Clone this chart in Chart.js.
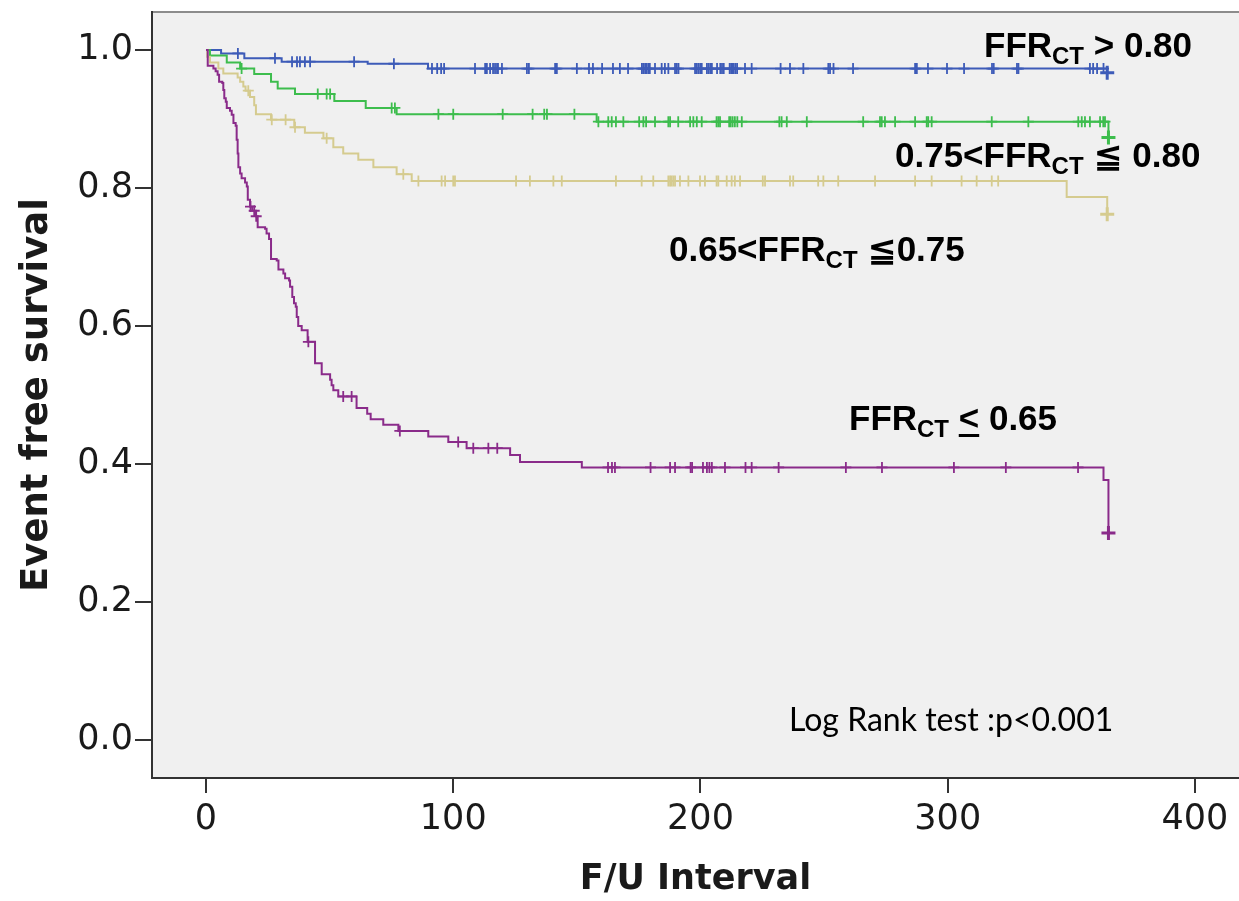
<!DOCTYPE html>
<html>
<head>
<meta charset="utf-8">
<script src="https://cdn.jsdelivr.net/npm/chart.js@4.4.1/dist/chart.umd.min.js"></script>
<style>
  html, body { margin: 0; padding: 0; background: #fff; }
  #wrap { width: 1239px; height: 901px; }
</style>
</head>
<body>
<div id="wrap"><canvas id="km" width="1239" height="901"></canvas></div>
<script>
// ─── Kaplan-Meier: event free survival by FFR-CT group ──────────────────────
// Step times (days) and survival after each step.
const X_TICKS = [0, 100, 200, 300, 400];
const Y_TICKS = [0, 0.2, 0.4, 0.6, 0.8, 1.0];

const blueTimes = [0, 6.1, 15.5, 30.6, 65.4, 89.8, 364.5];
const blueSurv  = [1.0, 0.995, 0.988, 0.983, 0.980, 0.973, 0.967];
const blueCensor = [12.9, 27.9, 34.8, 36.8, 38.0, 40.0, 42.1, 59.9, 76.0, 91.4, 93.5, 95.1, 96.3,
  108.8, 112.9, 113.6, 114.9, 116.1, 116.9, 117.7, 118.1, 119.7, 129.8, 130.6, 141.2, 141.9, 150.0,
  154.9, 156.5, 160.2, 164.6, 167.4, 170.7, 176.3, 176.9, 177.6, 178.2, 178.9, 179.5, 181.6, 184.3,
  185.6, 187.0, 189.7, 190.4, 191.1, 197.8, 198.5, 199.2, 199.9, 200.5, 202.6, 203.3, 204.0, 204.6,
  206.7, 208.0, 208.7, 209.4, 211.8, 212.4, 212.9, 213.4, 214.1, 214.8, 218.0, 220.7, 232.4, 236.2,
  241.6, 251.7, 252.4, 253.8, 261.7, 286.8, 287.5, 292.0, 299.7, 306.6, 317.9, 318.6, 328.0, 328.6,
  357.5, 358.8, 360.4, 363.0, 364.5];

const greenTimes = [0, 1.6, 8.4, 13.8, 19.5, 26.3, 29.0, 36.0, 51.9, 64.6, 77.1, 158.0, 365];
const greenSurv  = [1.0, 0.992, 0.982, 0.973, 0.965, 0.954, 0.944, 0.936, 0.926, 0.916, 0.907, 0.896, 0.873];
const greenCensor = [14.4, 45.2, 48.8, 50.2, 75.1, 76.4, 94.0, 100.0, 120.0, 132.1, 136.8, 137.9, 149.0,
  158.7, 162.7, 164.1, 165.8, 168.8, 175.2, 176.9, 178.0, 181.6, 187.0, 187.7, 191.0, 195.8, 197.1,
  198.5, 200.5, 206.5, 207.2, 207.9, 211.6, 212.2, 213.0, 213.9, 214.9, 216.7, 231.9, 232.8, 234.9,
  243.0, 265.8, 272.6, 273.3, 274.6, 278.7, 286.8, 291.5, 292.1, 293.5, 317.8, 332.6, 352.8, 354.2,
  355.5, 357.5, 361.6, 362.9, 363.6, 365];

const khakiTimes = [0, 0.5, 1.6, 5.0, 7.0, 12.8, 13.8, 15.1, 16.0, 17.8, 19.5, 20.2, 26.3, 35.7, 40.0,
  47.5, 51.5, 55.5, 61.6, 67.7, 77.1, 83.2, 348.1, 364.5];
const khakiSurv  = [1.0, 0.99, 0.982, 0.973, 0.966, 0.960, 0.954, 0.947, 0.941, 0.932, 0.920, 0.907, 0.899,
  0.888, 0.880, 0.872, 0.859, 0.850, 0.841, 0.830, 0.820, 0.810, 0.787, 0.762];
const khakiCensor = [17.1, 26.6, 32.2, 36.0, 48.8, 79.8, 85.9, 95.3, 96.7, 100.0, 100.7, 125.4, 131.0,
  140.5, 143.9, 165.8, 176.2, 180.9, 187.0, 187.7, 188.3, 189.0, 189.7, 191.7, 195.1, 199.8, 201.8,
  206.5, 207.2, 210.6, 212.6, 213.9, 216.0, 225.2, 226.1, 236.2, 237.5, 247.6, 249.7, 255.7, 270.6,
  286.8, 293.5, 305.6, 311.7, 317.8, 320.4, 364.5];

const purpleTimes = [0, 0.7, 3.0, 3.9, 4.7, 5.3, 6.6, 7.0, 7.4, 8.0, 8.4, 9.7, 10.4, 11.1, 12.0, 12.4,
  12.8, 13.1, 13.8, 14.4, 15.8, 16.5, 16.9, 17.8, 18.7, 20.2, 20.9, 23.9, 24.5, 25.5, 26.3, 28.6, 29.3,
  31.3, 32.0, 33.6, 34.0, 34.9, 35.6, 36.3, 36.7, 37.3, 38.7, 41.1, 44.1, 46.8, 50.2, 50.8, 51.5, 53.5,
  60.9, 65.2, 66.6, 71.7, 77.8, 89.9, 98.0, 105.4, 123.0, 127.0, 152.0, 363.0, 365.0];
const purpleSurv  = [1.0, 0.977, 0.973, 0.969, 0.964, 0.954, 0.952, 0.942, 0.930, 0.925, 0.916, 0.912,
  0.906, 0.894, 0.890, 0.870, 0.850, 0.830, 0.821, 0.814, 0.808, 0.802, 0.783, 0.773, 0.767, 0.759,
  0.743, 0.741, 0.734, 0.726, 0.697, 0.695, 0.682, 0.676, 0.669, 0.666, 0.657, 0.642, 0.633, 0.628,
  0.613, 0.600, 0.594, 0.577, 0.546, 0.530, 0.522, 0.514, 0.507, 0.498, 0.481, 0.473, 0.465, 0.457,
  0.448, 0.440, 0.432, 0.423, 0.413, 0.403, 0.395, 0.377, 0.300];
const purpleCensor = [18.0, 19.5, 20.3, 41.4, 55.5, 58.9, 78.4, 102.0, 108.1, 114.2, 117.8, 162.6, 164.2,
  165.4, 179.8, 187.7, 189.7, 196.0, 196.6, 201.0, 202.6, 203.6, 204.6, 209.9, 218.2, 220.7, 231.6,
  258.8, 273.4, 302.5, 323.5, 352.7, 365.0];

const X_MIN = -21.84, X_MAX = 417.8;
const Y_MIN = -0.055, Y_MAX = 1.055;

const GROUPS = [
  { name: 'FFRct <= 0.65',       times: purpleTimes, surv: purpleSurv, censor: purpleCensor, color: '#8a2b8a' },
  { name: '0.65 < FFRct <= 0.75', times: khakiTimes,  surv: khakiSurv,  censor: khakiCensor,  color: '#d5cb8f' },
  { name: '0.75 < FFRct <= 0.80', times: greenTimes,  surv: greenSurv,  censor: greenCensor,  color: '#3dbd4d' },
  { name: 'FFRct > 0.80',        times: blueTimes,   surv: blueSurv,   censor: blueCensor,   color: '#3d5bb8' },
];

// survival value in effect at time t (step function)
function survAt(times, surv, t) {
  let s = surv[0];
  for (let i = 0; i < times.length; i++) if (times[i] <= t) s = surv[i];
  return s;
}

const datasets = [];
for (const g of GROUPS) {
  datasets.push({
    type: 'line',
    label: g.name,
    data: g.times.map((t, i) => ({ x: t, y: g.surv[i] })),
    borderColor: g.color,
    borderWidth: 2,
    stepped: 'before',
    pointRadius: 0,
    fill: false,
  });
}
for (const g of GROUPS) {
  const n = g.censor.length;
  datasets.push({
    type: 'scatter',
    label: g.name + ' censored',
    data: g.censor.map(t => ({ x: t, y: survAt(g.times, g.surv, t) })),
    pointStyle: 'cross',
    pointRadius: c => c.dataIndex === n - 1 ? 7 : 5.5,
    borderWidth: c => c.dataIndex === n - 1 ? 3 : 1.8,
    borderColor: g.color,
    backgroundColor: g.color,
    showLine: false,
  });
}

const plotBackground = {
  id: 'plotBackground',
  beforeDraw(chart) {
    const { ctx, chartArea: { left, top, right, bottom } } = chart;
    ctx.save();
    ctx.fillStyle = '#f0f0f0';
    ctx.fillRect(left, top, right - left, bottom - top);
    ctx.strokeStyle = '#8c8c8c';
    ctx.lineWidth = 2;
    ctx.beginPath();
    ctx.moveTo(left, top);
    ctx.lineTo(right, top);
    ctx.stroke();
    ctx.restore();
  },
};

// rich text with subscripts / underlined parts
function drawRich(ctx, x, y, parts, size, subSize) {
  for (const p of parts) {
    ctx.font = `bold ${p.sub ? subSize : size}px "Liberation Sans", Arial, "DejaVu Sans", sans-serif`;
    const dy = p.sub ? Math.round(size * 0.2) : 0;
    ctx.fillText(p.t, x, y + dy);
    const w = ctx.measureText(p.t).width;
    if (p.ul) {
      ctx.fillRect(x, y + 4, w, 3);
    }
    x += w;
  }
}

const groupLabels = {
  id: 'groupLabels',
  afterDatasetsDraw(chart) {
    const { ctx } = chart;
    ctx.save();
    ctx.fillStyle = '#000';
    ctx.textBaseline = 'alphabetic';
    ctx.textAlign = 'left';
    drawRich(ctx, 984, 57, [{ t: 'FFR' }, { t: 'CT', sub: true }, { t: ' > 0.80' }], 35, 24);
    drawRich(ctx, 895, 167, [{ t: '0.75<FFR' }, { t: 'CT', sub: true }, { t: ' \u2266 0.80' }], 35, 24);
    drawRich(ctx, 669, 261, [{ t: '0.65<FFR' }, { t: 'CT', sub: true }, { t: ' \u22660.75' }], 35, 24);
    drawRich(ctx, 849, 430, [{ t: 'FFR' }, { t: 'CT', sub: true }, { t: ' ' }, { t: '<', ul: true }, { t: ' 0.65' }], 35, 24);
    ctx.font = '32px Lato, "Open Sans", sans-serif';
    ctx.fillText('Log Rank test :p<0.001', 789, 731);
    ctx.restore();
  },
};

const tickFont = { family: '"DejaVu Sans", sans-serif', size: 35 };

new Chart(document.getElementById('km'), {
  data: { datasets },
  options: {
    responsive: false,
    devicePixelRatio: 1,
    animation: false,
    layout: { autoPadding: false, padding: { top: 12, right: 0, left: 0, bottom: 0 } },
    plugins: { legend: { display: false }, tooltip: { enabled: false } },
    scales: {
      x: {
        type: 'linear',
        min: X_MIN, max: X_MAX,
        afterBuildTicks: s => { s.ticks = X_TICKS.map(v => ({ value: v })); },
        afterFit: s => { s.height = 123; s.paddingLeft = 0; s.paddingRight = 0; },
        ticks: { font: tickFont, color: '#1a1a1a', padding: 6, maxRotation: 0 },
        grid: { drawOnChartArea: false, tickLength: 15, color: '#333', lineWidth: 2 },
        border: { color: '#333', width: 2 },
        title: {
          display: true, text: 'F/U Interval', color: '#1a1a1a',
          font: { family: '"DejaVu Sans", sans-serif', size: 35, weight: 'bold' },
          padding: { top: 0, bottom: 0 },
        },
      },
      y: {
        type: 'linear',
        min: Y_MIN, max: Y_MAX,
        afterBuildTicks: s => { s.ticks = Y_TICKS.map(v => ({ value: v })); },
        afterFit: s => { s.width = 152; s.paddingTop = 0; s.paddingBottom = 0; },
        ticks: { font: tickFont, color: '#1a1a1a', padding: 2, callback: v => v.toFixed(1) },
        grid: { drawOnChartArea: false, tickLength: 17, color: '#333', lineWidth: 2 },
        border: { color: '#333', width: 2 },
        title: {
          display: true, text: 'Event free survival', color: '#1a1a1a',
          font: { family: '"DejaVu Sans", sans-serif', size: 37, weight: 'bold' },
          padding: { top: 15, bottom: 0 },
        },
      },
    },
  },
  plugins: [plotBackground, groupLabels],
});
</script>
</body>
</html>
